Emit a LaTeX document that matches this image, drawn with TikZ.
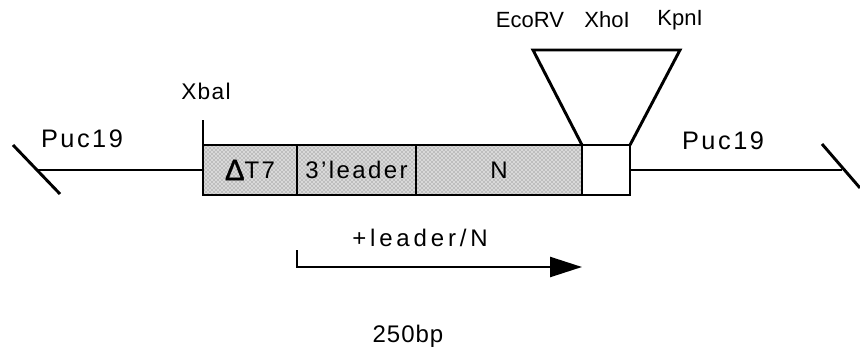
\documentclass[tikz,border=0pt]{standalone}
\usepackage{fontspec}
\setmainfont{Liberation Sans}
\usepackage{tikz}
\usetikzlibrary{arrows.meta, positioning, patterns}

\begin{document}
\begin{tikzpicture}[x=0.75pt, y=-0.75pt, node distance=0pt,
        seg/.style={rectangle, draw=black, line width=2.2pt, minimum height=37.5pt, inner sep=0pt, outer sep=0pt,
            preaction={fill=gray!30}, pattern=crosshatch dots, pattern color=black!60,
            font=\fontsize{18}{20}\selectfont\addfontfeatures{LetterSpace=10}},
        mcsbox/.style={rectangle, draw=black, line width=2.2pt, fill=white, minimum height=37.5pt, inner sep=0pt, outer sep=0pt},
        lbl/.style={font=\fontsize{16.5}{18}\selectfont, inner sep=0pt},
        biglbl/.style={font=\fontsize{19}{20}\selectfont\addfontfeatures{LetterSpace=10}, inner sep=0pt},
        line/.style={draw=black, line width=2.2pt}]
    \useasboundingbox (0,0) rectangle (860,354);

    % insert: T7 promoter, 3' leader, N, polylinker
    \node [seg, minimum width=70.5pt, anchor=west] (t7) at (203,170) {{\fontsize{22}{22}\selectfont\addfontfeatures{FakeBold=1.5}Δ}\raisebox{1pt}{T7}};
    \node [seg, minimum width=89.25pt, right=of t7] (leader) {3'leader};
    \node [seg, minimum width=124.5pt, right=of leader] (nseg) {N};
    \node [mcsbox, minimum width=36pt, right=of nseg] (mcs) {};

    % vector arms
    \coordinate (lcut) at (38,170);
    \coordinate (rcut) at (842,170);
    \path [line] (lcut) -- (t7.west);
    \path [line] (mcs.east) -- (rcut);
    \path [line] (13,145) -- (60,194);
    \path [line] (822,144) -- (860,188);
    \node [biglbl] (puclft) at (82,139) {Puc19};
    \node [biglbl] (pucrgt) at (723,141) {Puc19};

    % XbaI site
    \coordinate (xbtop) at (203,120);
    \path [line] (t7.north west) -- (xbtop);
    \node [lbl, font=\fontsize{17}{18}\selectfont\addfontfeatures{LetterSpace=6}] (xbal) at (206,91) {Xbal};

    % polylinker funnel
    \coordinate (ftl) at (533,50);
    \coordinate (ftr) at (680,50);
    \path [line, line join=miter] (nseg.north east) -- (ftl) -- (ftr) -- (mcs.north east);
    \node [lbl] (ecorv) at (530,20) {EcoRV};
    \node [lbl] (xhoi) at (607,20) {XhoI};
    \node [lbl] (kpni) at (680,20) {KpnI};

    % transcript
    \coordinate (astart) at (leader.south west |- 0,250);
    \coordinate (aend) at (nseg.south east |- 0,267);
    \draw [line width=1.8pt, -{Triangle[length=24pt, width=15pt]}] (astart) |- (aend);
    \node [biglbl, font=\fontsize{18}{20}\selectfont\addfontfeatures{LetterSpace=16}] (tlabel) at (420,238) {+leader/N};
    \node [biglbl, font=\fontsize{18}{20}\selectfont\addfontfeatures{LetterSpace=4}] (scale) at (408,336) {250bp};
\end{tikzpicture}
\end{document}
